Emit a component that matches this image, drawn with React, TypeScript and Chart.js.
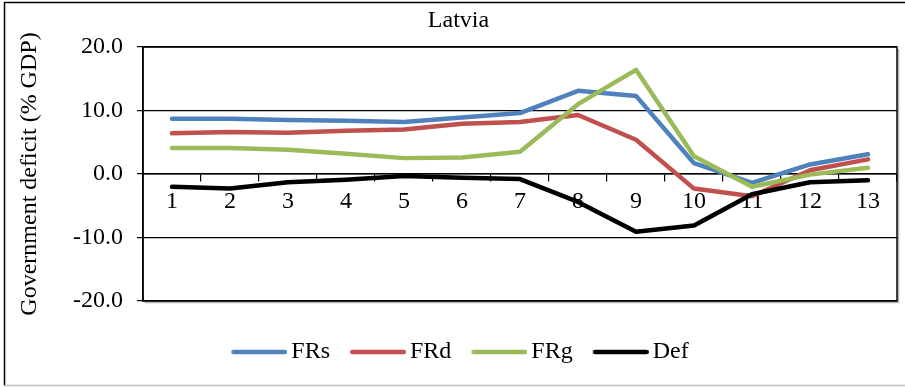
import React, { useEffect, useRef } from "react";
import { Chart, registerables } from "chart.js";

Chart.register(...registerables);

const categories = ["1", "2", "3", "4", "5", "6", "7", "8", "9", "10", "11", "12", "13"];
const frs = [8.7, 8.7, 8.5, 8.4, 8.2, 8.9, 9.6, 13.1, 12.3, 1.7, -1.4, 1.5, 3.1];
const frd = [6.4, 6.6, 6.5, 6.8, 7.0, 7.9, 8.2, 9.3, 5.4, -2.3, -3.5, 0.6, 2.3];
const frg = [4.1, 4.1, 3.8, 3.2, 2.5, 2.6, 3.5, 11.0, 16.4, 2.8, -2.0, -0.1, 1.0];
const def = [-2.0, -2.3, -1.3, -0.9, -0.3, -0.6, -0.8, -4.4, -9.1, -8.1, -3.2, -1.3, -1.0];
const yTicks = [-20, -10, 0, 10, 20];

const FONT = "'Liberation Serif', 'Times New Roman', serif";
const LINE_W = 4.5;

const frame = {
  id: "frame",
  beforeDraw(chart: any) {
    const { ctx, width, height } = chart;
    ctx.save();
    ctx.fillStyle = "#fff";
    ctx.fillRect(0, 0, width, height);
    ctx.lineWidth = 1.5;
    ctx.strokeStyle = "#000";
    ctx.beginPath();
    ctx.moveTo(width + 5, 2.5);
    ctx.lineTo(4.5, 2.5);
    ctx.lineTo(4.5, 385.5);
    ctx.stroke();
    ctx.strokeStyle = "#c0c0c0";
    ctx.beginPath();
    ctx.moveTo(4.5, 385.5);
    ctx.lineTo(width + 5, 385.5);
    ctx.stroke();
    ctx.restore();
  },
  beforeDatasetsDraw(chart: any) {
    const { ctx, chartArea: a } = chart;
    ctx.save();
    ctx.strokeStyle = "rgba(0,0,0,0.3)";
    ctx.lineWidth = 1.5;
    ctx.beginPath();
    ctx.moveTo(a.right + 1.5, a.top + 2);
    ctx.lineTo(a.right + 1.5, a.bottom + 1.5);
    ctx.lineTo(a.left + 2, a.bottom + 1.5);
    ctx.stroke();
    ctx.strokeStyle = "#000";
    ctx.lineWidth = 1.5;
    ctx.strokeRect(a.left, a.top, a.right - a.left, a.bottom - a.top);
    ctx.restore();
  },
};

function legendLine(color: string): HTMLCanvasElement {
  const c = document.createElement("canvas");
  c.width = 67;
  c.height = 8;
  const g = c.getContext("2d")!;
  g.strokeStyle = color;
  g.lineWidth = LINE_W;
  g.lineCap = "round";
  g.beginPath();
  g.moveTo(11 + LINE_W / 2, 4);
  g.lineTo(67 - LINE_W / 2, 4);
  g.stroke();
  return c;
}

export default function App() {
  const ref = useRef<HTMLCanvasElement>(null);
  useEffect(() => {
    if (!ref.current) return;
    const mk = (label: string, data: number[], color: string, order: number) => ({
      label,
      data,
      borderColor: color,
      backgroundColor: color,
      borderWidth: LINE_W,
      pointRadius: 0,
      tension: 0,
      borderCapStyle: "round",
      borderJoinStyle: "round",
      order,
    });
    const chart = new Chart(ref.current, {
      type: "line",
      data: {
        labels: categories,
        datasets: [
          mk("FRs", frs, "#4F81BD", 3),
          mk("FRd", frd, "#C0504D", 2),
          mk("FRg", frg, "#9BBB59", 1),
          mk("Def", def, "#000000", 0),
        ] as any,
      },
      options: {
        animation: false,
        responsive: false,
        layout: { padding: { left: 20, right: 8, top: 0, bottom: 13 } },
        scales: {
          x: {
            type: "category",
            position: { y: 0 } as any,
            offset: true,
            grid: {
              offset: true,
              drawOnChartArea: false,
              drawTicks: true,
              tickLength: 7,
              color: "#000",
              lineWidth: 1.2,
            },
            border: { color: "#000", width: 1.5 },
            ticks: {
              font: { family: FONT, size: 24 },
              color: "#000",
              padding: 6,
              maxRotation: 0,
              autoSkip: false,
            },
          },
          y: {
            min: -20,
            max: 20,
            afterBuildTicks: (s: any) => {
              s.ticks = yTicks.map((v) => ({ value: v }));
            },
            afterFit: (s: any) => {
              s.width = 123;
            },
            ticks: {
              font: { family: FONT, size: 24 },
              color: "#000",
              padding: 14,
              callback: (v: any) => Number(v).toFixed(1),
            },
            grid: { color: "#000", lineWidth: 1.2, tickLength: 6 },
            border: { color: "#000", width: 1.5 },
            title: {
              display: true,
              text: "Government deficit (% GDP)",
              font: { family: FONT, size: 24, lineHeight: 0.85 },
              color: "#000",
              padding: { top: 0, bottom: 0 },
            },
          },
        },
        plugins: {
          title: {
            display: true,
            text: "Latvia",
            font: { family: FONT, size: 24, weight: "normal" },
            color: "#000",
            padding: { top: 6.6, bottom: 11.6 },
          },
          legend: {
            position: "bottom",
            title: { display: true, text: "", font: { size: 22, lineHeight: 1 }, padding: 0 },
            labels: {
              usePointStyle: true,
              pointStyleWidth: 51,
              font: { family: FONT, size: 24 },
              color: "#000",
              padding: 17,
              generateLabels: (ch: any) => {
                const items = Chart.defaults.plugins.legend.labels.generateLabels(ch);
                items.sort((a: any, b: any) => a.datasetIndex - b.datasetIndex);
                return items.map((it: any) => ({
                  ...it,
                  pointStyle: legendLine(ch.data.datasets[it.datasetIndex].borderColor),
                }));
              },
            },
          },
          tooltip: { enabled: false },
        },
      } as any,
      plugins: [frame],
    });
    return () => chart.destroy();
  }, []);
  return (
    <canvas
      ref={ref}
      width={905}
      height={387}
      style={{ position: "absolute", left: 0, top: 0, display: "block" }}
    />
  );
}
